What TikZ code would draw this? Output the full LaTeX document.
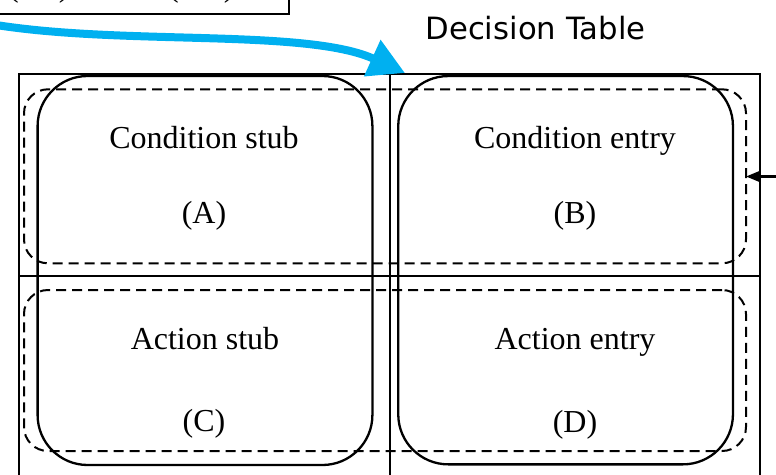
\documentclass[tikz,border=0pt]{standalone}
\usepackage{fontspec}
\setmainfont{Liberation Serif}
\newfontfamily\dejavu{DejaVu Sans}
\usetikzlibrary{arrows.meta}
\definecolor{skyblue}{HTML}{00B0F0}
\begin{document}
\begin{tikzpicture}[x=1pt,y=-1pt,
  tblline/.style={line width=2pt},
  cellbox/.style={draw, line width=2.3pt, rounded corners=50pt, inner sep=0pt, outer sep=0pt},
  rowbox/.style={draw, line width=2pt, dash pattern=on 10pt off 6pt, rounded corners=24pt, inner sep=0pt, outer sep=0pt},
  lbl/.style={font=\fontsize{32}{36}\selectfont, anchor=base, inner sep=0pt},
]
\useasboundingbox (0,0) rectangle (776,474);
% cropped source box at top left
\node[draw, line width=2pt, anchor=south east, minimum width=310pt, minimum height=40pt, inner sep=0pt] (src) at (290,15.3) {};
\node[lbl, anchor=base west] (p1) at (8,-4) {(\hspace{40pt})};
\node[lbl, anchor=base west] (p2) at (168,-4) {(\hspace{45pt})};
% title
\node[font=\dejavu\fontsize{30.7}{34}\selectfont, anchor=base, inner sep=0pt] (title) at (535.5,39) {Decision Table};
% table grid
\coordinate (tl) at (19,74);
\coordinate (br) at (760,495);
\coordinate (vt) at (389.5,74);
\coordinate (vb) at (389.5,495);
\coordinate (hl) at (19,275.7);
\coordinate (hr) at (760,275.7);
\draw[tblline] (tl) rectangle (br);
\draw[tblline] (vt) -- (vb);
\draw[tblline] (hl) -- (hr);
% dashed row boxes
\node[rowbox, minimum width=722pt, minimum height=174pt] (rowA) at (385,176.3) {};
\node[rowbox, minimum width=722pt, minimum height=161pt] (rowB) at (385,370.5) {};
% solid column boxes
\node[cellbox, minimum width=334.8pt, minimum height=389pt] (colL) at (205,270.5) {};
\node[cellbox, minimum width=334.7pt, minimum height=388.3pt] (colR) at (565.6,270.2) {};
% labels
\node[lbl] (cs) at (204,148) {Condition stub};
\node[lbl] (a) at (204,223) {(A)};
\node[lbl] (ce) at (575,148) {Condition entry};
\node[lbl] (b) at (575,223) {(B)};
\node[lbl] (as) at (205,349) {Action stub};
\node[lbl] (c) at (204,431) {(C)};
\node[lbl] (ae) at (575,349) {Action entry};
\node[lbl] (d) at (575,432) {(D)};
% blue curved arrow
\coordinate (bstart) at (-10,24);
\coordinate (btip) at (405,73);
\draw[skyblue, line width=8pt, -{Triangle[length=36pt,width=38pt]}] (bstart) .. controls (120,46) and (306,28) .. (btip);
% small arrow on the right
\coordinate (rstart) at (790,176.5);
\draw[line width=2.2pt, -{Triangle[length=13pt,width=10pt]}] (rstart) -- (rowA.east |- rstart);
\end{tikzpicture}
\end{document}
